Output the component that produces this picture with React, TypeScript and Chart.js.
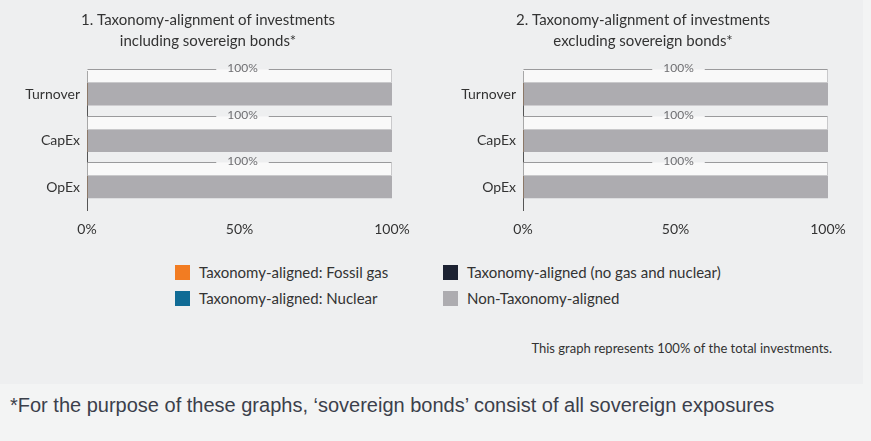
import React, { useEffect, useRef } from "react";
import { Chart, registerables } from "chart.js";

Chart.register(...registerables);

// ---------- data ----------
const categories = ["Turnover", "CapEx", "OpEx"];

const fossilGasIncl = [0, 0, 0];
const nuclearIncl = [0, 0, 0];
const alignedIncl = [0, 0, 0];
const nonAlignedIncl = [100, 100, 100];

const fossilGasExcl = [0, 0, 0];
const nuclearExcl = [0, 0, 0];
const alignedExcl = [0, 0, 0];
const nonAlignedExcl = [100, 100, 100];

const xTickValues = [0, 50, 100];

const seriesNames = [
  "Taxonomy-aligned: Fossil gas",
  "Taxonomy-aligned: Nuclear",
  "Taxonomy-aligned (no gas and nuclear)",
  "Non-Taxonomy-aligned",
];
const seriesColors = ["#f27c22", "#106b95", "#1c2232", "#adacb0"];

const titleIncl = ["1. Taxonomy-alignment of investments", "including sovereign bonds*"];
const titleExcl = ["2. Taxonomy-alignment of investments", "excluding sovereign bonds*"];

const coverageNote = "This graph represents 100% of the total investments.";
const footnote = "*For the purpose of these graphs, \u2018sovereign bonds\u2019 consist of all sovereign exposures";

const FONT = "Lato, 'Open Sans', sans-serif";

// ---------- bracket plugin: draws the total bracket above each stacked bar ----------
const bracketPlugin = {
  id: "totalBracket",
  afterDatasetsDraw(chart: any) {
    const { ctx, scales } = chart;
    const xs = scales.x;
    const n = chart.data.labels.length;
    const metas = chart.data.datasets.map((_: any, i: number) => chart.getDatasetMeta(i));
    ctx.save();
    for (let i = 0; i < n; i++) {
      let total = 0;
      chart.data.datasets.forEach((ds: any) => (total += ds.data[i] || 0));
      const el = metas[metas.length - 1].data[i];
      if (!el) continue;
      const barTop = el.y - el.height / 2;
      const h = 14;
      const yTop = Math.round(barTop - h) + 0.5;
      const yBot = Math.round(barTop) - 0.5;
      const x0 = Math.round(xs.getPixelForValue(0)) + 0.5;
      const x1 = Math.round(xs.getPixelForValue(total)) - 0.5;
      ctx.fillStyle = "#f9f9f9";
      ctx.fillRect(x0, yTop, x1 - x0, yBot - yTop);
      ctx.lineWidth = 1;
      ctx.strokeStyle = "#c9c9cb";
      ctx.beginPath();
      ctx.moveTo(x1, yTop);
      ctx.lineTo(x1, yBot);
      ctx.lineTo(x0, yBot);
      ctx.stroke();
      const label = total + "%";
      ctx.font = "12px " + FONT;
      const tw = ctx.measureText(label).width;
      const cx = (x0 + x1) / 2 + 3;
      const gap = 11;
      ctx.strokeStyle = "#9a9a9c";
      ctx.beginPath();
      ctx.moveTo(x0, yTop);
      ctx.lineTo(cx - tw / 2 - gap, yTop);
      ctx.moveTo(cx + tw / 2 + gap, yTop);
      ctx.lineTo(x1, yTop);
      ctx.stroke();
      ctx.fillStyle = "#6f6f72";
      ctx.textAlign = "center";
      ctx.textBaseline = "middle";
      ctx.fillText(label, cx, yTop - 1);
    }
    ctx.restore();
  },
};

function makeConfig(title: string[], series: number[][], yWidth: number, padRight: number) {
  return {
    type: "bar" as const,
    data: {
      labels: categories,
      datasets: series.map((data, i) => ({
        label: seriesNames[i],
        data,
        backgroundColor: seriesColors[i],
        borderWidth: 0,
        barThickness: 22,
      })),
    },
    options: {
      indexAxis: "y" as const,
      responsive: false,
      maintainAspectRatio: false,
      animation: false as const,
      events: [],
      layout: { padding: { top: 0, left: 0, right: 0, bottom: 3 } },
      plugins: {
        legend: { display: false },
        tooltip: { enabled: false },
        title: {
          display: true,
          text: title,
          color: "#333",
          font: { family: FONT, size: 15, weight: "normal" as const, lineHeight: 1.4 },
          padding: { top: 10, bottom: 19 },
        },
      },
      scales: {
        x: {
          stacked: true,
          min: 0,
          max: 100,
          grid: { display: false, drawTicks: true, tickLength: 11 },
          border: { display: false },
          afterBuildTicks: (s: any) => {
            s.ticks = xTickValues.map((v) => ({ value: v }));
          },
          ticks: {
            padding: 0,
            color: "#333",
            font: { family: FONT, size: 14 },
            callback: (v: any) => v + "%",
            maxRotation: 0,
          },
        },
        y: {
          stacked: true,
          grid: { display: false, drawTicks: false },
          border: { display: true, color: "#555", width: 1 },
          ticks: { padding: 7, color: "#333", font: { family: FONT, size: 14 } },
          afterFit: (s: any) => {
            s.width = yWidth;
          },
        },
        yPad: {
          type: "category",
          position: "right",
          display: true,
          grid: { display: false, drawTicks: false },
          border: { display: false },
          ticks: { display: false },
          afterFit: (s: any) => {
            s.width = padRight;
          },
        },
      },
    },
    plugins: [bracketPlugin],
  };
}

function BarChart(props: {
  title: string[];
  series: number[][];
  left: number;
  width: number;
  yWidth: number;
  padRight: number;
}) {
  const ref = useRef<HTMLCanvasElement | null>(null);
  useEffect(() => {
    if (!ref.current) return;
    const chart = new Chart(ref.current, makeConfig(props.title, props.series, props.yWidth, props.padRight) as any);
    return () => chart.destroy();
  }, []);
  return (
    <canvas
      ref={ref}
      width={props.width}
      height={241}
      style={{ position: "absolute", left: props.left, top: 0, width: props.width, height: 241 }}
    />
  );
}

function LegendItem(props: { color: string; label: string; left: number; top: number }) {
  return (
    <div style={{ position: "absolute", left: props.left, top: props.top, height: 16, display: "flex", alignItems: "center" }}>
      <div style={{ width: 15, height: 15, background: props.color, marginRight: 9 }} />
      <span style={{ fontFamily: FONT, fontSize: 15, color: "#333", whiteSpace: "nowrap", lineHeight: "16px" }}>
        {props.label}
      </span>
    </div>
  );
}

export default function App() {
  const legendPos = [
    { left: 175, top: 264 },
    { left: 175, top: 290 },
    { left: 443, top: 264 },
    { left: 443, top: 290 },
  ];
  return (
    <div
      style={{
        position: "absolute",
        left: 0,
        top: 0,
        width: 871,
        height: 441,
        background: "#f3f4f4",
        overflow: "hidden",
      }}
    >
      <div style={{ position: "absolute", left: 0, top: 0, width: 863, height: 384, background: "#eeeff0" }} />
      <BarChart
        title={titleIncl}
        series={[fossilGasIncl, nuclearIncl, alignedIncl, nonAlignedIncl]}
        left={0}
        width={416}
        yWidth={87}
        padRight={24}
      />
      <BarChart
        title={titleExcl}
        series={[fossilGasExcl, nuclearExcl, alignedExcl, nonAlignedExcl]}
        left={430}
        width={426}
        yWidth={93}
        padRight={28}
      />
      {seriesNames.map((name, i) => (
        <LegendItem key={name} color={seriesColors[i]} label={name} left={legendPos[i].left} top={legendPos[i].top} />
      ))}
      <div
        style={{
          position: "absolute",
          right: 871 - 832,
          top: 339,
          fontFamily: FONT,
          fontSize: 13,
          color: "#333",
          whiteSpace: "nowrap",
          lineHeight: "18px",
        }}
      >
        {coverageNote}
      </div>
      <div
        style={{
          position: "absolute",
          left: 10,
          top: 394,
          fontFamily: "'Liberation Sans', Arial, sans-serif",
          fontSize: 20,
          color: "#3b404b",
          whiteSpace: "nowrap",
          lineHeight: "22px",
        }}
      >
        {footnote}
      </div>
    </div>
  );
}
